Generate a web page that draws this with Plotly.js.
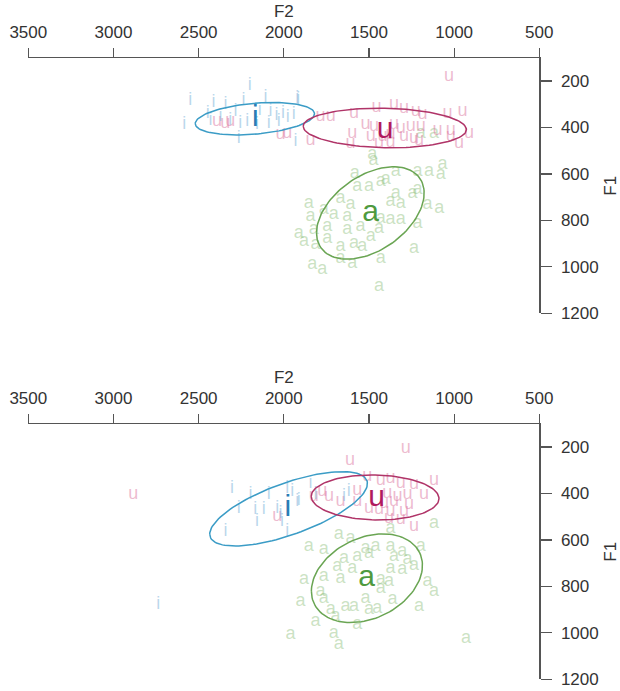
<!DOCTYPE html>
<html>
<head>
<meta charset="utf-8">
<script src="https://cdn.plot.ly/plotly-3.0.1.min.js"></script>
<style>html,body{margin:0;padding:0;background:#fff;}#chart{width:620px;height:691px;}</style>
</head>
<body>
<div id="chart"></div>
<script>
// ---------- DATA (Hz) ----------
const xTickVals = [3500, 3000, 2500, 2000, 1500, 1000, 500];
const yTickVals = [200, 400, 600, 800, 1000, 1200];

// Panel 1 (top)
const p1_i_F2 = [2200,2549,2412,2108,1915,2584,2447,2284,2255,2141,2078,2043,2004,1977,2088,2215,2265,1931,2431,2372,2314,2030,2157,1921,1941,2343,2237];
const p1_i_F1 = [220,285,293,270,279,389,339,332,382,328,332,350,339,356,382,375,446,461,368,354,368,375,389,274,346,299,282];
const p1_u_F2 = [2392,2343,2314,2020,1980,1843,1784,1725,1030,1588,1455,1353,1294,1225,1186,1039,951,1520,1471,1353,1314,1255,1196,1098,1020,912,1598,1490,1421,1373,1294,1236,1020,971,1608,1441,1373,1206];
const p1_u_F1 = [375,382,375,432,425,454,354,354,182,339,315,303,317,332,346,339,332,389,396,389,403,396,396,411,411,425,425,440,440,432,440,446,440,468,468,468,464,454];
const p1_a_F2 = [1474,1584,1343,1147,1068,1078,1215,1568,1500,1431,1402,1343,1245,1215,1667,1608,1373,1314,1157,1088,1853,1843,1765,1706,1627,1431,1373,1314,1215,1912,1824,1745,1627,1549,1441,1882,1814,1745,1667,1588,1539,1490,1431,1236,1667,1598,1833,1774,1441,1196,1118,1480];
const p1_a_F1 = [540,597,590,590,561,604,590,655,655,633,626,683,683,669,704,733,719,726,733,748,726,784,755,776,784,791,798,798,812,855,841,827,841,827,834,891,905,877,913,898,913,870,963,920,963,984,991,1013,1085,425,425,518];

// Panel 2 (bottom)
const p2_i_F2 = [2304,2196,2088,1980,1951,1912,1843,2265,2167,2118,2039,2157,2010,2343,1980,2020,2737,1814,1921,1647,1618];
const p2_i_F1 = [378,406,406,378,392,428,356,464,471,471,464,521,521,564,564,485,880,406,435,414,392];
const p2_u_F2 = [1284,1612,1510,1431,1373,1314,1236,1118,1774,1735,1568,1392,1333,1274,1177,1824,1667,1568,1412,1353,1265,1500,1441,1373,1294,1236,1314,1383,2884,2039];
const p2_u_F1 = [206,259,328,342,335,356,363,342,392,414,385,399,414,406,406,414,435,435,442,435,449,464,471,478,478,543,514,507,406,500];
const p2_a_F2 = [1677,1608,1853,1765,1520,1461,1373,1304,1196,1118,1647,1568,1500,1353,1274,1236,1686,1598,1373,1304,1882,1765,1667,1431,1383,1157,1902,1784,1765,1520,1431,1362,1118,1206,1725,1637,1588,1500,1451,1696,1814,1568,1706,1961,1677,931,1373];
const p2_a_F1 = [578,593,629,643,636,629,629,650,629,528,679,672,657,672,686,708,715,722,722,729,772,758,765,772,779,779,865,822,851,851,808,858,822,887,901,887,887,901,894,930,951,966,1001,1009,1052,1023,550];

// Vowel means (centroid labels)
const vowels = ['i', 'u', 'a'];
const p1_mean_F2 = [2167, 1406, 1490];
const p1_mean_F1 = [360, 411, 769];
const p2_mean_F2 = [1977, 1455, 1514];
const p2_mean_F1 = [464, 421, 765];

// Ellipses: centre F2, centre F1, radius F2, radius F1, correlation
const p1_ell_i = [2170, 362, 350, 70, 0.30];
const p1_ell_u = [1407, 402, 479, 85, -0.08];
const p1_ell_a = [1492, 768, 316, 199, 0.43];
const p2_ell_i = [1972, 466, 463, 160, 0.68];
const p2_ell_u = [1464, 417, 375, 97, -0.05];
const p2_ell_a = [1512, 765, 326, 191, 0.29];

// ---------- STYLE ----------
const FONT = '"Liberation Sans", Arial, Helvetica, sans-serif';
const lightCol = {i: 'rgba(120,175,215,0.5)', u: 'rgba(220,120,160,0.5)', a: 'rgba(130,185,110,0.42)'};
const meanCol = {i: '#2a7db5', u: '#b0195e', a: '#4f9a3f'};
const ellCol = {i: '#3b9cc6', u: '#b03468', a: '#6aa553'};

function ellipse(p) {
  const [cx, cy, rx, ry, r] = p;
  const xs = [], ys = [];
  const s = Math.sqrt(1 - r * r);
  for (let k = 0; k <= 120; k++) {
    const t = 2 * Math.PI * k / 120;
    xs.push(cx + rx * Math.cos(t));
    ys.push(cy + ry * (r * Math.cos(t) + s * Math.sin(t)));
  }
  return {xs, ys};
}

function pointsTrace(xs, ys, v, xa, ya) {
  return {x: xs, y: ys, text: xs.map(() => v), mode: 'text', type: 'scatter',
    textfont: {family: FONT, size: 18, color: lightCol[v]}, textposition: 'middle center',
    xaxis: xa, yaxis: ya, hoverinfo: 'skip', showlegend: false, cliponaxis: false};
}
function ellTrace(p, v, xa, ya) {
  const e = ellipse(p);
  return {x: e.xs, y: e.ys, mode: 'lines', type: 'scatter', line: {color: ellCol[v], width: 1.5},
    xaxis: xa, yaxis: ya, hoverinfo: 'skip', showlegend: false};
}
function meanTrace(xs, ys, xa, ya) {
  return {x: xs, y: ys, text: vowels, mode: 'text', type: 'scatter',
    textfont: {family: FONT, size: 30, color: vowels.map(v => meanCol[v])}, textposition: 'middle center',
    xaxis: xa, yaxis: ya, hoverinfo: 'skip', showlegend: false, cliponaxis: false};
}

const traces = [
  pointsTrace(p1_a_F2, p1_a_F1, 'a', 'x', 'y'),
  pointsTrace(p1_u_F2, p1_u_F1, 'u', 'x', 'y'),
  pointsTrace(p1_i_F2, p1_i_F1, 'i', 'x', 'y'),
  ellTrace(p1_ell_i, 'i', 'x', 'y'),
  ellTrace(p1_ell_u, 'u', 'x', 'y'),
  ellTrace(p1_ell_a, 'a', 'x', 'y'),
  meanTrace(p1_mean_F2, p1_mean_F1, 'x', 'y'),
  pointsTrace(p2_a_F2, p2_a_F1, 'a', 'x2', 'y2'),
  pointsTrace(p2_u_F2, p2_u_F1, 'u', 'x2', 'y2'),
  pointsTrace(p2_i_F2, p2_i_F1, 'i', 'x2', 'y2'),
  ellTrace(p2_ell_i, 'i', 'x2', 'y2'),
  ellTrace(p2_ell_u, 'u', 'x2', 'y2'),
  ellTrace(p2_ell_a, 'a', 'x2', 'y2'),
  meanTrace(p2_mean_F2, p2_mean_F1, 'x2', 'y2')
];

const W = 620, H = 691;
const xDom = [28.3 / W, 539.3 / W];
const y1Dom = [1 - 313.3 / H, 1 - 58.3 / H];
const y2Dom = [1 - 679.3 / H, 1 - 424.3 / H];

function xAxis(anchor) {
  return {domain: xDom, range: [3500, 500], side: 'top', anchor: anchor,
    tickmode: 'array', tickvals: xTickVals, ticks: 'outside', ticklen: 9, tickwidth: 1.2, tickcolor: '#555',
    showline: true, linecolor: '#555', linewidth: 1.2, showgrid: false, zeroline: false,
    tickfont: {family: FONT, size: 17, color: '#333'}, ticklabelstandoff: 3,
    title: {text: 'F2', font: {family: FONT, size: 17, color: '#333'}, standoff: 1}, automargin: false};
}
function yAxis(anchor, dom) {
  return {domain: dom, range: [1200, 102], side: 'right', anchor: anchor,
    tickmode: 'array', tickvals: yTickVals, ticks: 'outside', ticklen: 11, tickwidth: 1.2, tickcolor: '#555',
    showline: true, linecolor: '#555', linewidth: 1.2, showgrid: false, zeroline: false,
    tickfont: {family: FONT, size: 17, color: '#333'}, ticklabelstandoff: 6,
    title: {text: 'F1', font: {family: FONT, size: 17, color: '#333'}, standoff: 10}, automargin: false};
}

const layout = {
  width: W, height: H, margin: {l: 0, r: 0, t: 0, b: 0},
  paper_bgcolor: '#fff', plot_bgcolor: '#fff', showlegend: false,
  xaxis: xAxis('y'), yaxis: yAxis('x', y1Dom),
  xaxis2: xAxis('y2'), yaxis2: yAxis('x2', y2Dom)
};

Plotly.newPlot('chart', traces, layout, {staticPlot: true, displayModeBar: false});
</script>
</body>
</html>
